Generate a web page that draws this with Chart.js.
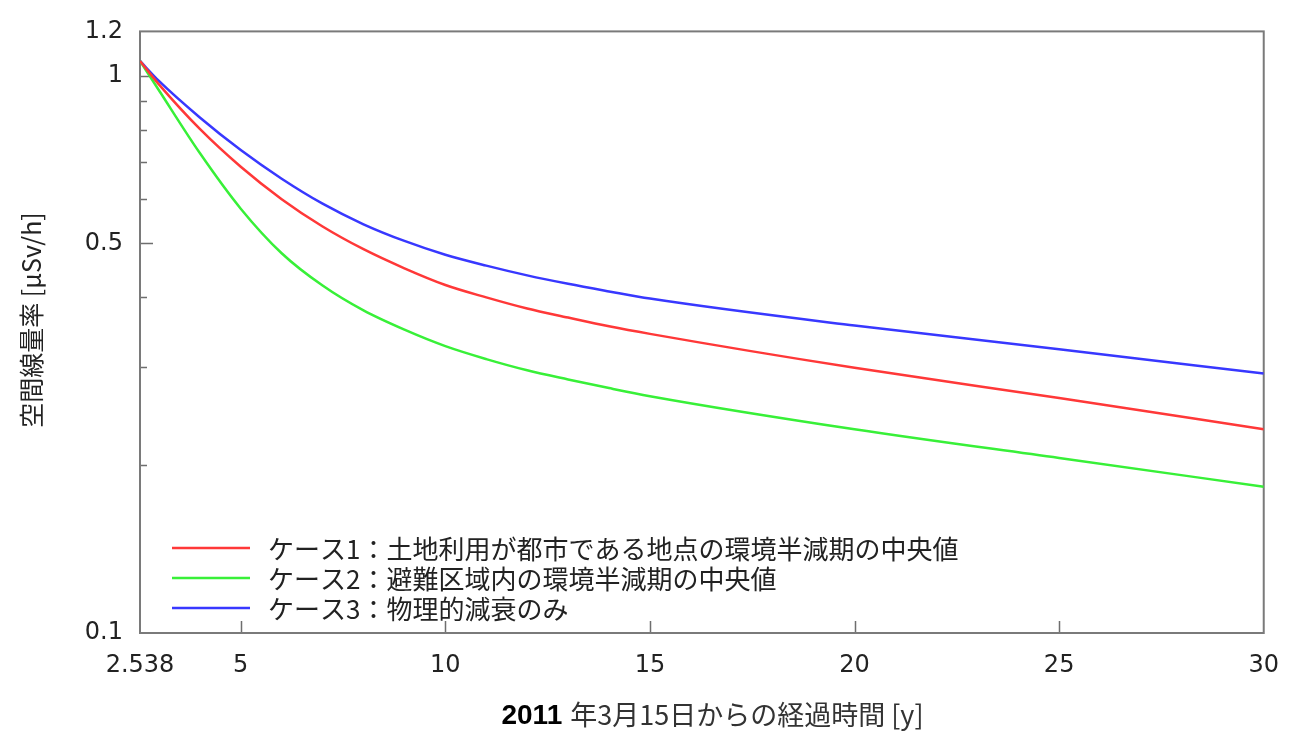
<!DOCTYPE html>
<html>
<head>
<meta charset="utf-8">
<script src="https://cdn.jsdelivr.net/npm/chart.js@4.4.1/dist/chart.umd.min.js"></script>
<style>
  html, body { margin: 0; padding: 0; background: #fff; }
  #wrap { width: 1297px; height: 736px; }
</style>
</head>
<body>
<div id="wrap"><canvas id="chart"></canvas></div>
<script>
let years = [2.538, 3, 4, 5, 6, 7, 8, 9, 10, 11, 12, 13, 14, 15, 20, 25, 30]

let case1 = [1.062, 0.964, 0.802, 0.686, 0.600, 0.536, 0.488, 0.451, 0.421, 0.400, 0.382, 0.368, 0.355, 0.344, 0.299, 0.264, 0.232]
let case2 = [1.062, 0.941, 0.726, 0.577, 0.480, 0.420, 0.379, 0.350, 0.327, 0.310, 0.296, 0.285, 0.275, 0.266, 0.232, 0.206, 0.183]
let case3 = [1.062, 0.978, 0.841, 0.735, 0.653, 0.589, 0.541, 0.505, 0.477, 0.456, 0.438, 0.423, 0.410, 0.398, 0.356, 0.323, 0.292]

let seriesNames = [
    'ケース1：土地利用が都市である地点の環境半減期の中央値',
    'ケース2：避難区域内の環境半減期の中央値',
    'ケース3：物理的減衰のみ'
]

let xTicks = [2.538, 5, 10, 15, 20, 25, 30]
let yTicks = [0.1, 0.2, 0.3, 0.4, 0.5, 0.6, 0.7, 0.8, 0.9, 1, 1.2]
let yLabels = [0.1, 0.5, 1, 1.2]
let yMajor = [0.5, 1]

let yTitle = '空間線量率 [μSv/h]'
let xTitleBold = '2011'
let xTitleRest = '年3月15日からの経過時間 [y]'

let toPoints = function(values) {
    return values.map((v, i) => ({ x: years[i], y: v }))
}

// frame and inward tick marks
let framePlugin = {
    id: 'frame',
    beforeDatasetsDraw(chart) {
        let ctx = chart.ctx
        let area = chart.chartArea
        let xs = chart.scales.x
        let ys = chart.scales.y
        ctx.save()
        ctx.strokeStyle = '#6e6e6e'
        ctx.lineWidth = 1.5
        ctx.beginPath()
        yTicks.forEach(v => {
            if (v >= 1.2 || v <= 0.1) return
            let py = Math.round(ys.getPixelForValue(v)) + 0.5
            let len = yMajor.includes(v) ? 13 : 7
            ctx.moveTo(area.left, py)
            ctx.lineTo(area.left + len, py)
        })
        xTicks.forEach(v => {
            if (v <= 2.538 || v >= 30) return
            let px = Math.round(xs.getPixelForValue(v)) + 0.5
            ctx.moveTo(px, area.bottom)
            ctx.lineTo(px, area.bottom - 12)
        })
        ctx.stroke()
        ctx.strokeStyle = '#7a7a7a'
        ctx.lineWidth = 2
        ctx.strokeRect(area.left, area.top, area.right - area.left, area.bottom - area.top)
        ctx.restore()
    }
}

// legend inside the plot, axis titles
let textPlugin = {
    id: 'texts',
    afterDraw(chart) {
        let ctx = chart.ctx
        let area = chart.chartArea
        ctx.save()
        chart.data.datasets.forEach((ds, i) => {
            let y = area.bottom - 85 + i * 30
            ctx.strokeStyle = ds.borderColor
            ctx.lineWidth = 2.5
            ctx.beginPath()
            ctx.moveTo(area.left + 32, y)
            ctx.lineTo(area.left + 110, y)
            ctx.stroke()
            ctx.fillStyle = '#222'
            ctx.font = '26px "Noto Sans CJK JP"'
            ctx.textBaseline = 'middle'
            ctx.textAlign = 'left'
            ctx.fillText(ds.label, area.left + 128, y + 1)
        })

        // y title
        ctx.save()
        ctx.translate(31, 320)
        ctx.rotate(-Math.PI / 2)
        ctx.fillStyle = '#222'
        ctx.font = '25px "Noto Sans CJK JP"'
        ctx.textAlign = 'center'
        ctx.textBaseline = 'middle'
        ctx.fillText(yTitle, 0, 0)
        ctx.restore()

        // x title, bold year + normal rest
        ctx.font = 'bold 28px "Liberation Sans"'
        let w1 = ctx.measureText(xTitleBold).width
        ctx.font = '27px "Noto Sans CJK JP"'
        let w2 = ctx.measureText(xTitleRest).width
        let gap = 8
        let x0 = 712.5 - (w1 + gap + w2) / 2
        let ty = 715
        ctx.textBaseline = 'middle'
        ctx.textAlign = 'left'
        ctx.fillStyle = '#000'
        ctx.font = 'bold 28px "Liberation Sans"'
        ctx.fillText(xTitleBold, x0, ty + 1)
        ctx.fillStyle = '#333'
        ctx.font = '27px "Noto Sans CJK JP"'
        ctx.fillText(xTitleRest, x0 + w1 + gap, ty)
        ctx.restore()
    }
}

let chart = new Chart(
    document.getElementById('chart'),
    {
        type: 'line',
        data: {
            datasets: [
                {
                    label: seriesNames[0],
                    data: toPoints(case1),
                    borderColor: '#ff3838',
                    borderWidth: 2.5,
                    pointRadius: 0,
                    fill: false,
                    cubicInterpolationMode: 'monotone'
                },
                {
                    label: seriesNames[1],
                    data: toPoints(case2),
                    borderColor: '#38f038',
                    borderWidth: 2.5,
                    pointRadius: 0,
                    fill: false,
                    cubicInterpolationMode: 'monotone'
                },
                {
                    label: seriesNames[2],
                    data: toPoints(case3),
                    borderColor: '#3838ff',
                    borderWidth: 2.5,
                    pointRadius: 0,
                    fill: false,
                    cubicInterpolationMode: 'monotone'
                }
            ]
        },
        options: {
            responsive: true,
            maintainAspectRatio: false,
            animation: false,
            events: [],
            layout: {
                padding: { top: 25, right: 31, left: 0, bottom: 0 }
            },
            plugins: {
                legend: { display: false },
                tooltip: { enabled: false }
            },
            scales: {
                x: {
                    type: 'linear',
                    min: 2.538,
                    max: 30,
                    grid: { display: false, drawTicks: false },
                    border: { display: false },
                    afterBuildTicks: scale => {
                        scale.ticks = xTicks.map(v => ({ value: v }))
                    },
                    afterFit: scale => {
                        scale.height = 103
                    },
                    ticks: {
                        autoSkip: false,
                        maxRotation: 0,
                        padding: 18,
                        color: '#222',
                        font: { family: '"DejaVu Sans"', size: 24 },
                        callback: v => String(v)
                    }
                },
                y: {
                    type: 'logarithmic',
                    min: 0.1,
                    max: 1.2,
                    grid: { display: false, drawTicks: false },
                    border: { display: false },
                    afterBuildTicks: scale => {
                        scale.ticks = yTicks.map(v => ({ value: v }))
                    },
                    afterFit: scale => {
                        scale.width = 140
                    },
                    ticks: {
                        autoSkip: false,
                        padding: 17,
                        color: '#222',
                        font: { family: '"DejaVu Sans"', size: 24 },
                        callback: v => yLabels.includes(v) ? String(v) : ''
                    }
                }
            }
        },
        plugins: [framePlugin, textPlugin]
    }
)
</script>
</body>
</html>
